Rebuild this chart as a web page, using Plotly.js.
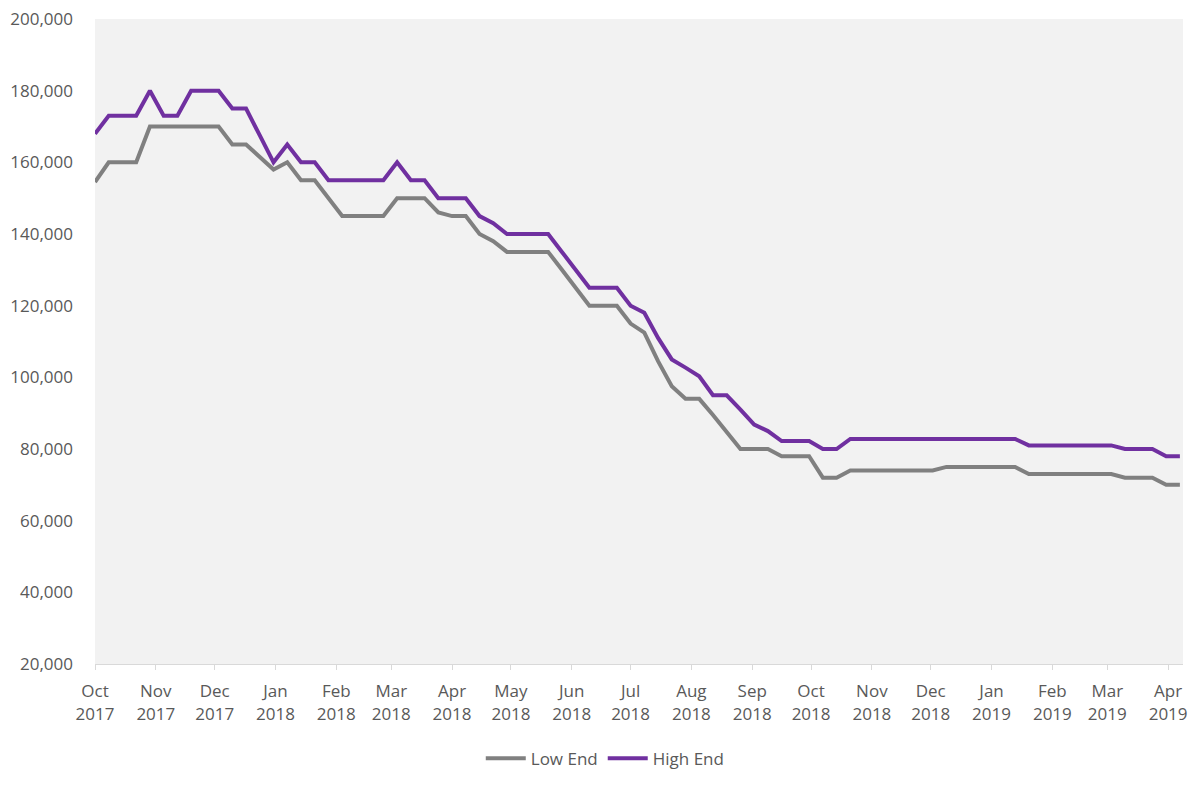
<!DOCTYPE html>
<html>
<head>
<meta charset="utf-8">
<script src="https://cdn.plot.ly/plotly-3.0.1.min.js"></script>
<style>html,body{margin:0;padding:0;background:#fff;}#chart{width:1200px;height:787px;}</style>
</head>
<body>
<div id="chart"></div>
<script>
// Weekly observations starting 2017-10-01
const startDate = '2017-10-01';
const lowEnd = [
  154500, 160000, 160000, 160000, 170000, 170000, 170000, 170000, 170000, 170000,
  165000, 165000, 161500, 158000, 160000, 155000, 155000, 150000, 145000, 145000,
  145000, 145000, 150000, 150000, 150000, 146000, 145000, 145000, 140000, 138000,
  135000, 135000, 135000, 135000, 130000, 125000, 120000, 120000, 120000, 115000,
  112500, 104500, 97500, 94000, 94000, 89500, 84800, 80000, 80000, 80000,
  78000, 78000, 78000, 72000, 72000, 74000, 74000, 74000, 74000, 74000,
  74000, 74000, 75000, 75000, 75000, 75000, 75000, 75000, 73000, 73000,
  73000, 73000, 73000, 73000, 73000, 72000, 72000, 72000, 70000, 70000
];
const highEnd = [
  168000, 173000, 173000, 173000, 180000, 173000, 173000, 180000, 180000, 180000,
  175000, 175000, 167500, 160000, 165000, 160000, 160000, 155000, 155000, 155000,
  155000, 155000, 160000, 155000, 155000, 150000, 150000, 150000, 145000, 143000,
  140000, 140000, 140000, 140000, 135000, 130000, 125000, 125000, 125000, 120000,
  118000, 111000, 105000, 102700, 100300, 95000, 95000, 91000, 86800, 85000,
  82200, 82200, 82200, 80000, 80000, 82800, 82800, 82800, 82800, 82800,
  82800, 82800, 82800, 82800, 82800, 82800, 82800, 82800, 81000, 81000,
  81000, 81000, 81000, 81000, 81000, 80000, 80000, 80000, 78000, 78000
];
const tickDates = ['2017-10-01','2017-11-01','2017-12-01','2018-01-01','2018-02-01','2018-03-01',
  '2018-04-01','2018-05-01','2018-06-01','2018-07-01','2018-08-01','2018-09-01','2018-10-01',
  '2018-11-01','2018-12-01','2019-01-01','2019-02-01','2019-03-01','2019-04-01'];
const tickLabels = ['Oct<br>2017','Nov<br>2017','Dec<br>2017','Jan<br>2018','Feb<br>2018','Mar<br>2018',
  'Apr<br>2018','May<br>2018','Jun<br>2018','Jul<br>2018','Aug<br>2018','Sep<br>2018','Oct<br>2018',
  'Nov<br>2018','Dec<br>2018','Jan<br>2019','Feb<br>2019','Mar<br>2019','Apr<br>2019'];
const yTicks = [20000, 40000, 60000, 80000, 100000, 120000, 140000, 160000, 180000, 200000];

function weeklyDates(start, n) {
  const out = [];
  const d0 = new Date(start + 'T00:00:00Z');
  for (let i = 0; i < n; i++) {
    const d = new Date(d0.getTime() + i * 7 * 86400000);
    out.push(d.toISOString().slice(0, 10));
  }
  return out;
}
const dates = weeklyDates(startDate, lowEnd.length);

const traces = [
  {x: dates, y: lowEnd, name: 'Low End', type: 'scatter', mode: 'lines',
   line: {color: '#808080', width: 4}},
  {x: dates, y: highEnd, name: 'High End', type: 'scatter', mode: 'lines',
   line: {color: '#7030A0', width: 4}}
];

const layout = {
  width: 1200, height: 787,
  margin: {l: 95, r: 17, t: 19, b: 122},
  paper_bgcolor: '#ffffff',
  plot_bgcolor: '#f2f2f2',
  font: {family: 'Open Sans, sans-serif', size: 16, color: '#595959'},
  showlegend: true,
  legend: {orientation: 'h', x: 0.469, xanchor: 'center', y: -0.145, yanchor: 'middle',
           itemwidth: 40, font: {size: 17, color: '#595959'}, bgcolor: 'rgba(0,0,0,0)'},
  xaxis: {
    type: 'date',
    range: ['2017-10-01', '2019-04-08 14:00'],
    tickmode: 'array', tickvals: tickDates, ticktext: tickLabels,
    showgrid: false, zeroline: false,
    showline: true, linecolor: '#d9d9d9', linewidth: 1,
    ticks: 'outside', ticklen: 5, tickcolor: '#d9d9d9',
    ticklabelstandoff: 7,
    tickfont: {size: 17, color: '#595959'}
  },
  yaxis: {
    range: [20000, 200000],
    tickmode: 'array', tickvals: yTicks,
    tickformat: ',d',
    showgrid: false, zeroline: false, showline: false,
    ticks: '', ticklabelstandoff: 21,
    tickfont: {size: 17, color: '#595959'}
  }
};

Plotly.newPlot('chart', traces, layout, {displayModeBar: false, staticPlot: true});
</script>
</body>
</html>
